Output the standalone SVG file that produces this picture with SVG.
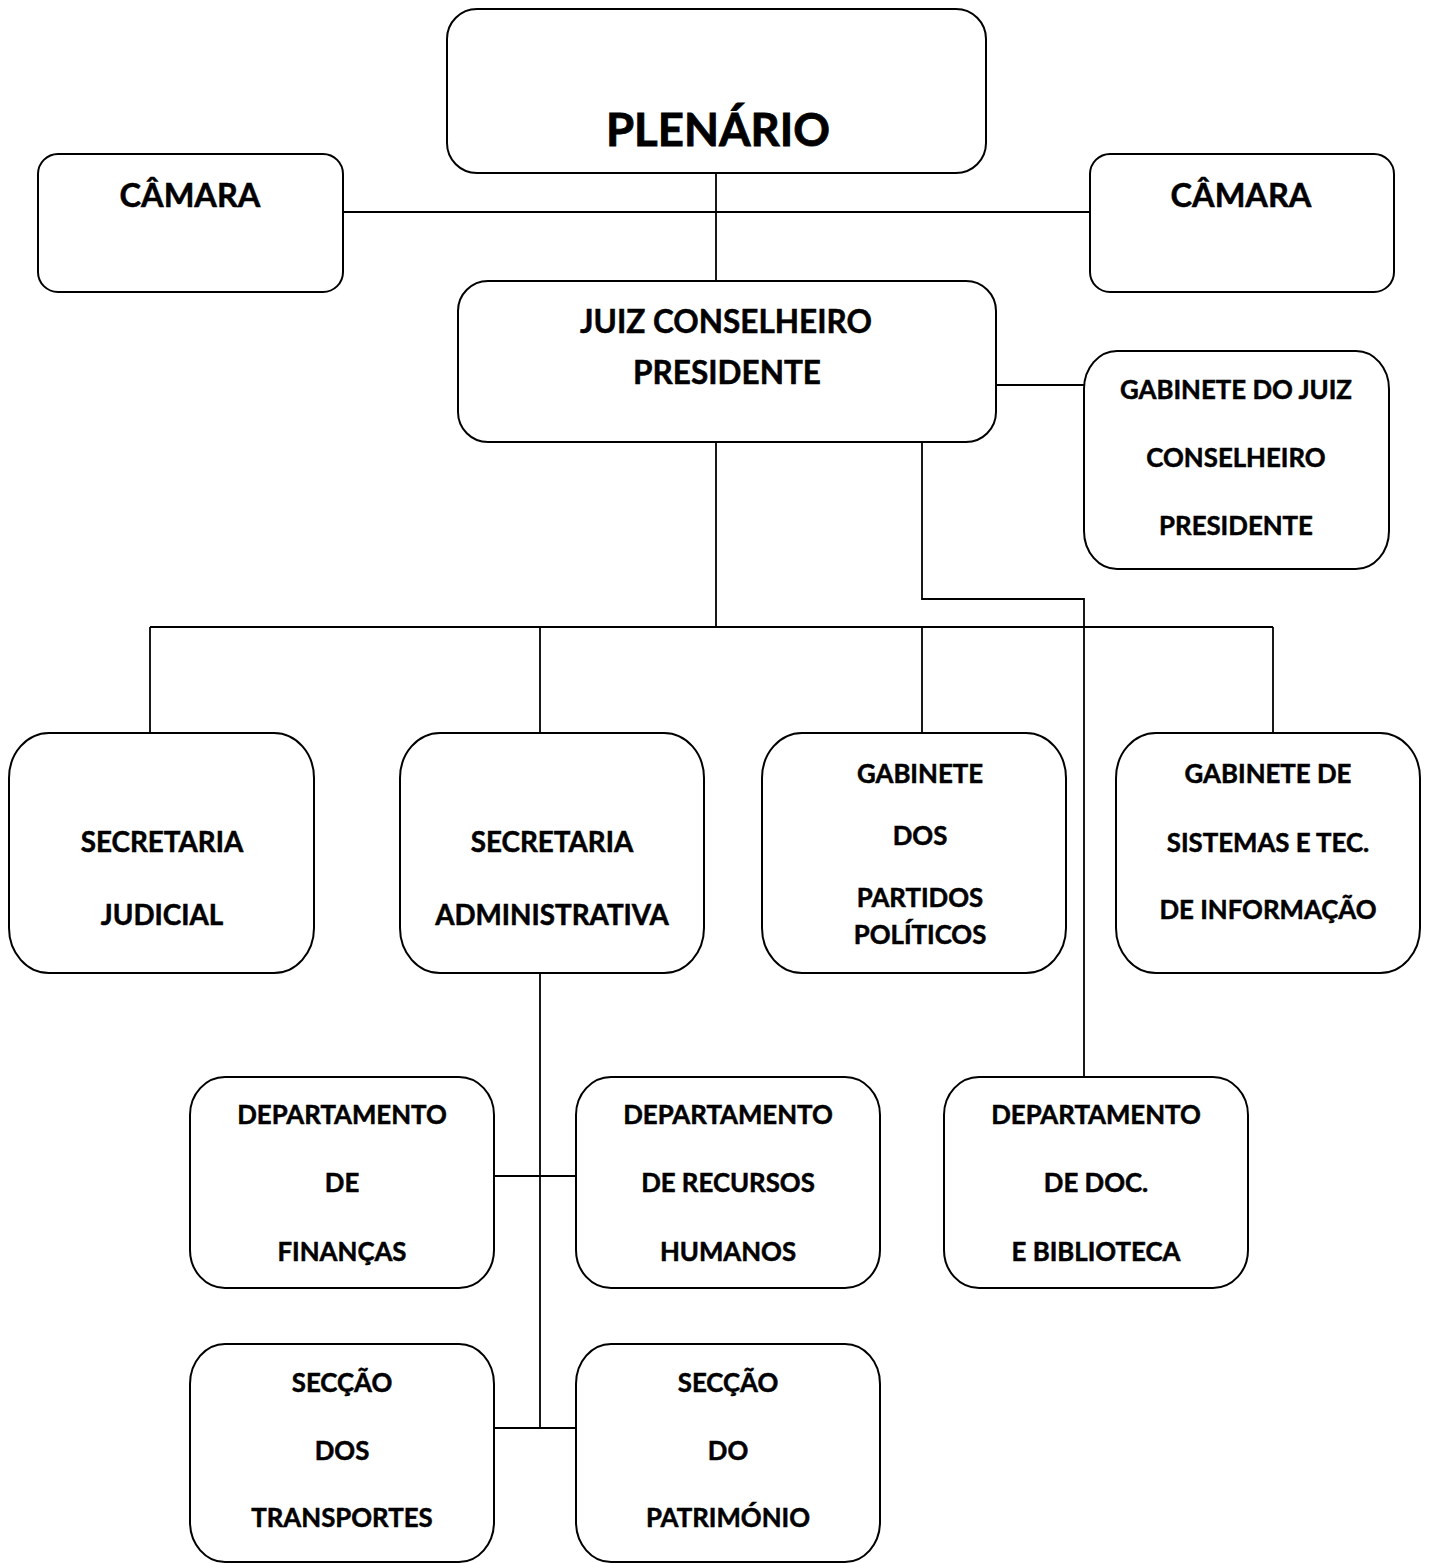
<svg xmlns="http://www.w3.org/2000/svg" width="1430" height="1563" viewBox="0 0 1430 1563">
<style>
.box{fill:#fff;stroke:#000;stroke-width:2}
.ln{fill:none;stroke:#000;stroke-width:1.8}
text{font-family:Lato,"Open Sans","Liberation Sans",sans-serif;font-weight:bold;fill:#000;stroke:#000;stroke-width:0.5;text-anchor:middle}
.t24{font-size:25.8px}
.t26{font-size:27.8px}
.t30{font-size:31.5px}
.t32{font-size:32.5px}
.t47{font-size:45.5px;stroke-width:0.8}
</style>
<rect width="1430" height="1563" fill="#fff"/>
<g id="connectors">
<line class="ln" x1="716" y1="173" x2="716" y2="281"/>
<line class="ln" x1="343" y1="212" x2="1090" y2="212"/>
<line class="ln" x1="996" y1="385" x2="1084" y2="385"/>
<line class="ln" x1="716" y1="442" x2="716" y2="627"/>
<polyline class="ln" points="922,442 922,599 1084,599 1084,1077"/>
<line class="ln" x1="150" y1="627" x2="1273" y2="627"/>
<line class="ln" x1="150" y1="627" x2="150" y2="733"/>
<line class="ln" x1="540" y1="627" x2="540" y2="733"/>
<line class="ln" x1="922" y1="627" x2="922" y2="733"/>
<line class="ln" x1="1273" y1="627" x2="1273" y2="733"/>
<line class="ln" x1="540" y1="973" x2="540" y2="1428"/>
<line class="ln" x1="494" y1="1176" x2="576" y2="1176"/>
<line class="ln" x1="494" y1="1428" x2="576" y2="1428"/>
</g>
<g id="plenario">
<rect class="box" x="447" y="9" width="539" height="164" rx="30" ry="30"/>
<text class="t47" x="718" y="146">PLENÁRIO</text>
</g>
<g id="camara-left">
<rect class="box" x="38" y="154" width="305" height="138" rx="20" ry="20"/>
<text class="t32" x="190" y="207">CÂMARA</text>
</g>
<g id="camara-right">
<rect class="box" x="1090" y="154" width="304" height="138" rx="20" ry="20"/>
<text class="t32" x="1241" y="207">CÂMARA</text>
</g>
<g id="juiz">
<rect class="box" x="458" y="281" width="538" height="161" rx="30" ry="30"/>
<text class="t30" x="726" y="333">JUIZ CONSELHEIRO</text>
<text class="t30" x="727" y="384">PRESIDENTE</text>
</g>
<g id="gabinete-juiz">
<rect class="box" x="1084" y="351" width="305" height="218" rx="33" ry="38"/>
<text class="t24" x="1236" y="399">GABINETE DO JUIZ</text>
<text class="t24" x="1236" y="467">CONSELHEIRO</text>
<text class="t24" x="1236" y="535">PRESIDENTE</text>
</g>
<g id="secretaria-judicial">
<rect class="box" x="9" y="733" width="305" height="240" rx="40" ry="45"/>
<text class="t26" x="162" y="852">SECRETARIA</text>
<text class="t26" x="162" y="925">JUDICIAL</text>
</g>
<g id="secretaria-administrativa">
<rect class="box" x="400" y="733" width="304" height="240" rx="40" ry="45"/>
<text class="t26" x="552" y="852">SECRETARIA</text>
<text class="t26" x="552" y="925">ADMINISTRATIVA</text>
</g>
<g id="gabinete-partidos">
<rect class="box" x="762" y="733" width="304" height="240" rx="40" ry="45"/>
<text class="t24" x="920" y="783">GABINETE</text>
<text class="t24" x="920" y="845">DOS</text>
<text class="t24" x="920" y="907">PARTIDOS</text>
<text class="t24" x="920" y="944">POLÍTICOS</text>
</g>
<g id="gabinete-sistemas">
<rect class="box" x="1116" y="733" width="304" height="240" rx="40" ry="45"/>
<text class="t24" x="1268" y="783">GABINETE DE</text>
<text class="t24" x="1268" y="852">SISTEMAS E TEC.</text>
<text class="t24" x="1268" y="919">DE INFORMAÇÃO</text>
</g>
<g id="dep-financas">
<rect class="box" x="190" y="1077" width="304" height="211" rx="35" ry="38"/>
<text class="t24" x="342" y="1124">DEPARTAMENTO</text>
<text class="t24" x="342" y="1192">DE</text>
<text class="t24" x="342" y="1261">FINANÇAS</text>
</g>
<g id="dep-rh">
<rect class="box" x="576" y="1077" width="304" height="211" rx="35" ry="38"/>
<text class="t24" x="728" y="1124">DEPARTAMENTO</text>
<text class="t24" x="728" y="1192">DE RECURSOS</text>
<text class="t24" x="728" y="1261">HUMANOS</text>
</g>
<g id="dep-doc">
<rect class="box" x="944" y="1077" width="304" height="211" rx="35" ry="38"/>
<text class="t24" x="1096" y="1124">DEPARTAMENTO</text>
<text class="t24" x="1096" y="1192">DE DOC.</text>
<text class="t24" x="1096" y="1261">E BIBLIOTECA</text>
</g>
<g id="seccao-transportes">
<rect class="box" x="190" y="1344" width="304" height="218" rx="35" ry="40"/>
<text class="t24" x="342" y="1392">SECÇÃO</text>
<text class="t24" x="342" y="1460">DOS</text>
<text class="t24" x="342" y="1527">TRANSPORTES</text>
</g>
<g id="seccao-patrimonio">
<rect class="box" x="576" y="1344" width="304" height="218" rx="35" ry="40"/>
<text class="t24" x="728" y="1392">SECÇÃO</text>
<text class="t24" x="728" y="1460">DO</text>
<text class="t24" x="728" y="1527">PATRIMÓNIO</text>
</g>
</svg>
